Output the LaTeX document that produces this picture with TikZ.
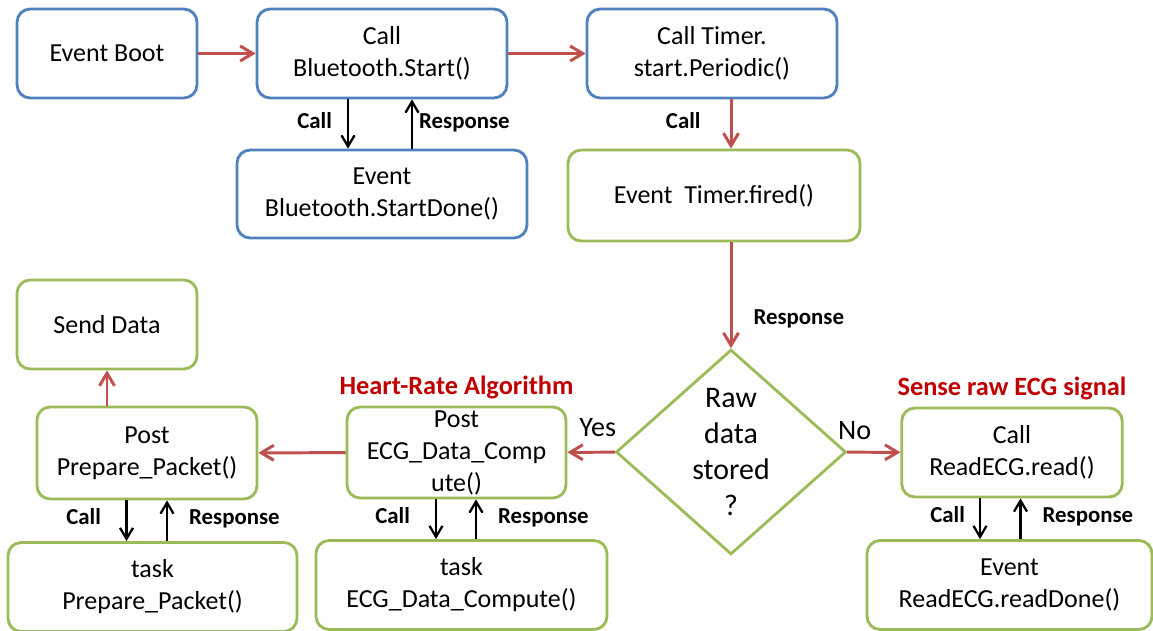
\documentclass[tikz,border=0pt]{standalone}
\usepackage{fontspec}
\setmainfont{Carlito}
\usepackage{tikz}
\usetikzlibrary{arrows.meta,positioning,shapes.geometric,calc}
\definecolor{bline}{HTML}{4F81BD}
\definecolor{gline}{HTML}{9BBB59}
\definecolor{rline}{HTML}{C0504D}
\definecolor{rtext}{HTML}{C00000}
\tikzset{
  blk/.style={draw=bline, line width=1.6pt, rounded corners=7.5pt, align=center, inner sep=0pt, font=\fontsize{14.8}{18.2}\selectfont},
  gblk/.style={blk, draw=gline},
  dec/.style={draw=gline, line width=1.6pt, diamond, align=center, inner sep=0pt, minimum width=4.6cm, minimum height=4cm, font=\fontsize{17}{20.5}\selectfont},
  arr/.style={-{Straight Barb[length=2.5mm, width=3mm]}, draw=rline, line width=1.7pt},
  barr/.style={-{Straight Barb[length=2.2mm, width=2.6mm]}, line width=1.3pt},
  lbl/.style={font=\fontsize{13}{15}\selectfont\bfseries, inner sep=0pt, text height=0.68em, text depth=0.2em},
  ttl/.style={font=\fontsize{15}{18}\selectfont\bfseries, text=rtext, inner sep=0pt},
  yn/.style={font=\fontsize{16}{19}\selectfont, inner sep=0pt}
}
\begin{document}
\begin{tikzpicture}
  \useasboundingbox (0,0) rectangle (23.06,12.6);
  % start-up chain
  \node[blk, minimum width=3.6cm, minimum height=1.78cm] (boot) at (2.14,11.53) {Event Boot};
  \node[blk, minimum width=5cm, minimum height=1.78cm] (bts) at (7.64,11.53) {Call\\Bluetooth.Start()};
  \node[blk, minimum width=5cm, minimum height=1.78cm] (tmr) at (14.24,11.53) {Call Timer.\\start.Periodic()};
  \node[blk, minimum width=5.8cm, minimum height=1.76cm] (btd) at (7.64,8.72) {Event\\Bluetooth.StartDone()};
  \node[gblk, minimum width=5.84cm, minimum height=1.82cm] (fired) at (14.28,8.69) {Event~~Timer.fired()};
  % decision and branches
  \node[dec] (raw) at (14.62,3.56) {Raw\\data\\stored\\?};
  \node[gblk, minimum width=4.38cm, minimum height=1.82cm] (ecg) at (9.13,3.55) {Post\\ECG\_Data\_Comp\\ute()};
  \node[gblk, minimum width=4.4cm, minimum height=1.84cm] (prep) at (2.94,3.54) {Post\\Prepare\_Packet()};
  \node[gblk, minimum width=3.6cm, minimum height=1.78cm] (send) at (2.14,6.11) {Send Data};
  \node[gblk, minimum width=5.78cm, minimum height=1.78cm] (ptask) at (3.05,0.86) {task\\Prepare\_Packet()};
  \node[gblk, minimum width=5.82cm, minimum height=1.78cm] (ctask) at (9.23,0.9) {task\\ECG\_Data\_Compute()};
  \node[gblk, minimum width=4.41cm, minimum height=1.78cm] (rd) at (20.24,3.55) {Call\\ReadECG.read()};
  \node[gblk, minimum width=5.7cm, minimum height=1.78cm] (rdd) at (20.19,0.9) {Event\\ReadECG.readDone()};
  \node[ttl, above=0.13cm of ecg] (hra) {Heart-Rate Algorithm};
  \node[ttl, above=0.13cm of rd] (sense) {Sense raw ECG signal};
  % red flow
  \draw[arr] (boot) -- (bts);
  \draw[arr] (bts) -- (tmr);
  \draw[arr] (tmr.south -| raw.north) -- node[lbl, left=0.58cm] {Call} (fired.north -| raw.north);
  \draw[arr] (fired.south -| raw.north) -- node[lbl, pos=0.74, right=0.42cm] {Response} (raw.north);
  \draw[arr] (raw) -- node[yn, pos=0.36, above=0.28cm] {Yes} (ecg);
  \draw[arr] (raw) -- node[yn, pos=0.14, above=0.22cm] {No} (rd);
  \draw[arr] (ecg) -- (prep);
  \draw[arr] (prep.north -| send.south) -- (send);
  % call / response pairs
  \draw[barr] ([xshift=-0.68cm]bts.south) -- node[lbl, left=0.3cm] {Call} ([xshift=-0.68cm]btd.north);
  \draw[barr] ([xshift=0.6cm]btd.north) -- node[lbl, right=0.12cm] {Response} ([xshift=0.6cm]bts.south);
  \draw[barr] ([xshift=-0.41cm]prep.south) -- node[lbl, left=0.49cm] {Call} ([xshift=-0.41cm]prep.south |- ptask.north);
  \draw[barr] ([xshift=0.4cm]prep.south |- ptask.north) -- node[lbl, right=0.42cm] {Response} ([xshift=0.4cm]prep.south);
  \draw[barr] ([xshift=-0.41cm]ecg.south) -- node[lbl, left=0.5cm] {Call} ([xshift=-0.41cm]ecg.south |- ctask.north);
  \draw[barr] ([xshift=0.39cm]ecg.south |- ctask.north) -- node[lbl, right=0.42cm] {Response} ([xshift=0.39cm]ecg.south);
  \draw[barr] ([xshift=-0.64cm]rd.south) -- node[lbl, left=0.28cm] {Call} ([xshift=-0.64cm]rd.south |- rdd.north);
  \draw[barr] ([xshift=0.17cm]rd.south |- rdd.north) -- node[lbl, right=0.42cm] {Response} ([xshift=0.17cm]rd.south);
\end{tikzpicture}
\end{document}
